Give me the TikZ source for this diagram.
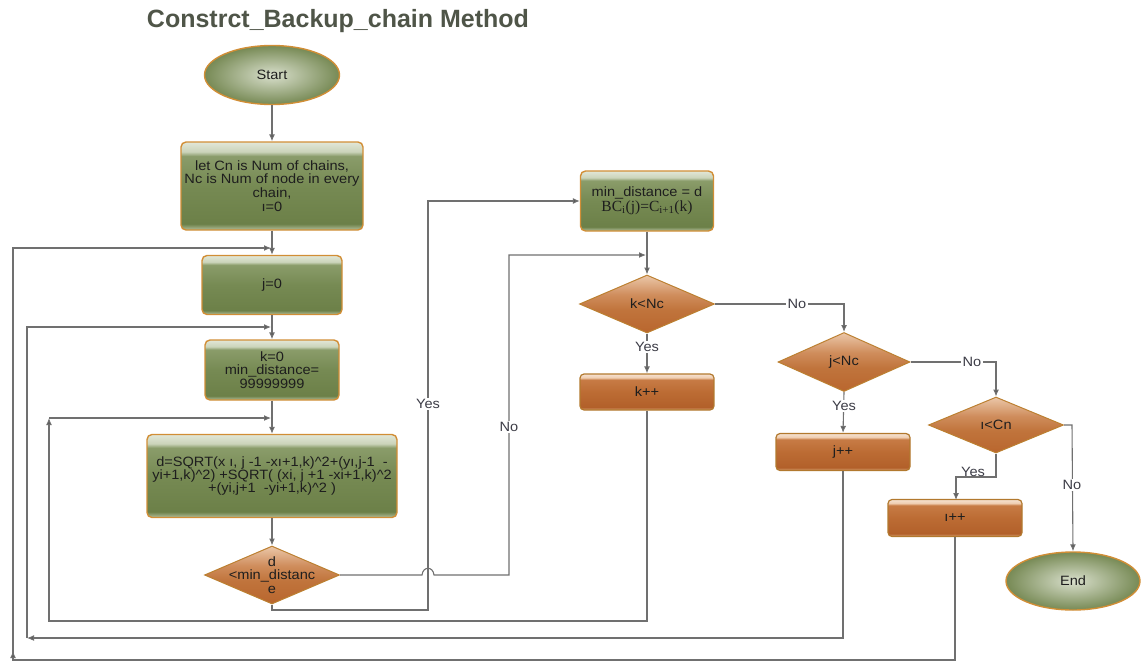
\documentclass[tikz,border=0pt]{standalone}
\usepackage{fontspec}
\setmainfont{Liberation Sans}[FakeStretch=1.08]
\newfontfamily\serifface{Liberation Serif}
\newfontfamily\headface{Liberation Sans}
\usetikzlibrary{shapes.geometric,arrows.meta}

% palette
\definecolor{edge}{HTML}{707070}
\definecolor{tipc}{HTML}{555555}
\definecolor{rim}{HTML}{D18E36}
\definecolor{titlec}{HTML}{4F5548}
\definecolor{txt}{HTML}{1E1E1E}
\definecolor{lbl}{HTML}{3C3C46}
% green process boxes
\definecolor{gA}{HTML}{B4C09C}
\definecolor{gB}{HTML}{6C8048}
\definecolor{gC}{HTML}{768A53}
\definecolor{gD}{HTML}{8A9C6A}
\definecolor{gE}{HTML}{CBD4BA}
\definecolor{gF}{HTML}{E2E7D8}
% brown process boxes
\definecolor{bA}{HTML}{D9A274}
\definecolor{bB}{HTML}{B2602A}
\definecolor{bC}{HTML}{BC6C34}
\definecolor{bD}{HTML}{C77B45}
\definecolor{bE}{HTML}{EFCDB0}
\definecolor{bF}{HTML}{F6E2D2}
% decisions
\definecolor{dA}{HTML}{B9662E}
\definecolor{dB}{HTML}{C0743C}
\definecolor{dC}{HTML}{CF8D5C}
\definecolor{dD}{HTML}{EBC7A9}

\pgfdeclareverticalshading{greengloss}{100bp}{color(0bp)=(gA); color(25bp)=(gA); color(28.5bp)=(gB); color(50bp)=(gC); color(67bp)=(gD); color(69.5bp)=(gE); color(75bp)=(gF); color(100bp)=(gF)}
\pgfdeclareverticalshading{browngloss}{100bp}{color(0bp)=(bA); color(25bp)=(bA); color(29bp)=(bB); color(50bp)=(bC); color(67bp)=(bD); color(70bp)=(bE); color(75bp)=(bF); color(100bp)=(bF)}
\pgfdeclareverticalshading{diamondgloss}{100bp}{color(0bp)=(dA); color(25bp)=(dA); color(45bp)=(dB); color(58bp)=(dC); color(75bp)=(dD); color(100bp)=(dD)}

\newcommand\pw{\textasciicircum{}}

\tikzset{
  txtfont/.style={font=\fontsize{13.5}{13.8}\selectfont, text=txt},
  greenbox/.style={rectangle, rounded corners=5pt, draw=rim, line width=1.4pt,
    shading=greengloss, align=center, inner sep=2pt, txtfont},
  brownbox/.style={rectangle, rounded corners=4pt, draw=rim!85!black, line width=1.2pt,
    shading=browngloss, align=center, inner sep=2pt, txtfont},
  decision/.style={diamond, draw=rim!90!black, line width=1pt, shading=diamondgloss,
    inner sep=0pt, minimum width=135pt, minimum height=58pt},
  dtext/.style={align=center, txtfont},
  terminal/.style={ellipse, draw=rim, line width=1.4pt, inner color=gF!80!gA,
    outer color=gB!85!gA, minimum width=135pt, minimum height=59pt, txtfont},
  flow/.style={draw=edge, line width=1.1pt},
  arr/.style={flow, -{Latex[length=7pt,width=6pt,fill=tipc]}},
  tag/.style={fill=white, inner sep=1.5pt, text=lbl, font=\fontsize{13.5}{14}\selectfont},
}

\begin{document}
\begin{tikzpicture}[x=1pt, y=-1pt]
\useasboundingbox (0,0) rectangle (1142,661);

% title
\node[text=titlec, font=\headface\bfseries\fontsize{25}{28}\selectfont] (title) at (338,21) {Constrct\_Backup\_chain Method};

% left column
\node[terminal] (start) at (272,75) {Start};
\node[greenbox, minimum width=182pt, minimum height=88pt] (init) at (272,186)
  {let Cn is Num of chains,\\Nc is Num of node in every\\chain,\\ı=0};
\node[greenbox, minimum width=140pt, minimum height=59pt] (jzero) at (272,285) {j=0};
\node[greenbox, minimum width=134pt, minimum height=60pt] (kzero) at (272,370)
  {k=0\\min\_distance=\\99999999};
\node[greenbox, minimum width=250pt, minimum height=83pt,
      font=\fontsize{13.5}{13}\selectfont] (dist) at (272,476)
  {d=SQRT(x ı, j -1 -xı+1,k)\pw2+(yı,j-1 \ -\\yi+1,k)\pw2) +SQRT( (xi, j +1 -xi+1,k)\pw2\\+(yi,j+1 \ -yi+1,k)\pw2 )};
\node[decision] (dcmp) at (272,575) {};
\node[dtext] at (dcmp) {d\\<min\_distanc\\e};

% middle column
\node[greenbox, minimum width=133pt, minimum height=60pt] (upd) at (647,201)
  {min\_distance = d\\[1pt]{\serifface\fontsize{15.5}{16}\selectfont BC\textsubscript{i}(j)=C\textsubscript{i+1}(k)}};
\node[decision] (kcmp) at (647,304) {};
\node[dtext] at (kcmp) {k<Nc};
\node[brownbox, minimum width=134pt, minimum height=36pt] (kinc) at (647,392) {k++};

\node[decision, minimum width=132pt, minimum height=59pt] (jcmp) at (844,362) {};
\node[dtext] at (jcmp) {j<Nc};
\node[brownbox, minimum width=134pt, minimum height=37pt] (jinc) at (843,452) {j++};

\node[decision, minimum height=56pt] (icmp) at (996,425) {};
\node[dtext] at (icmp) {ı<Cn};
\node[brownbox, minimum width=134pt, minimum height=37pt] (iinc) at (955,518) {ı++};
\node[terminal, minimum width=134pt, minimum height=58pt] (end) at (1073,581) {End};

% points where loops rejoin a vertical line
\coordinate (jjoin) at (271,248);
\coordinate (kjoin) at (271,327);
\coordinate (djoin) at (271,418);
\coordinate (njoin) at (646,255);

% straight chain
\draw[arr] (start.south) -- (init.north);
\draw[arr] (init.south) -- (jzero.north);
\draw[arr] (jzero.south) -- (kzero.north);
\draw[arr] (kzero.south) -- (dist.north);
\draw[arr] (dist.south) -- (dcmp.north);
\draw[arr] (upd.south) -- (kcmp.north);

% d < min_distance : Yes
\draw[arr] (dcmp.south) -- (272,610) -- (428,610) -- (428,201) -- (upd.west);
\node[tag] (yes1) at (428,404) {Yes};
% d < min_distance : No (hops over the Yes line)
\draw[arr] (dcmp.east) -- (422,575) .. controls (423,566) and (433,566) .. (434,575)
  -- (509,575) -- (509,255) -- (njoin);
\node[tag] (no1) at (509,427) {No};

% k < Nc
\draw[arr] (kcmp.south) -- (kinc.north);
\node[tag] (yes2) at (647,347) {Yes};
\draw[arr] (kcmp.east) -- (844,304) -- (jcmp.north);
\node[tag] (no2) at (797,304) {No};

% j < Nc
\draw[arr] (jcmp.south) -- (jinc.north);
\node[tag] (yes3) at (844,406) {Yes};
\draw[arr] (jcmp.east) -- (996,362) -- (icmp.north);
\node[tag] (no3) at (972,362) {No};

% i < Cn
\draw[arr] (icmp.south) -- (996,477) -- (956,477) -- (956,500);
\node[tag, fill=none, anchor=south] (yes4) at (973,478) {Yes};
\draw[arr] (icmp.east) -- (1072,425) -- (end.north);
\node[tag] (no4) at (1072,485) {No};

% k loop back
\draw[arr] (kinc.south) -- (647,621) -- (49,621) -- (49,418);
\draw[arr] (49,418) -- (djoin);
% j loop back
\draw[arr] (jinc.south) -- (843,638) -- (27,638);
\draw[arr] (27,638) -- (27,327) -- (kjoin);
% i loop back
\draw[flow] (iinc.south) -- (955,660) -- (13,660) -- (13,652);
\draw[arr] (13,660) -- (13,651);
\draw[arr] (13,652) -- (13,248) -- (jjoin);
\end{tikzpicture}
\end{document}
